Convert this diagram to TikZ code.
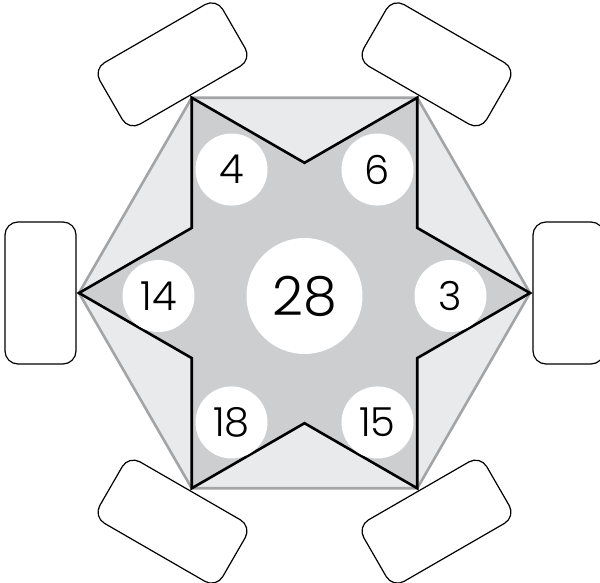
\documentclass[tikz,border=0pt]{standalone}
\usepackage{fontspec}
\setmainfont{Poppins}[UprightFont=* Light]
\usetikzlibrary{positioning}
\definecolor{hexfill}{RGB}{233,234,235}
\definecolor{starfill}{RGB}{205,206,208}
\definecolor{hexline}{RGB}{163,164,166}
\tikzset{
  answerbox/.style={draw=black, line width=1.2pt, fill=white, rounded corners=13pt,
    minimum width=71pt, minimum height=142pt, inner sep=0pt},
  numdisc/.style={circle, fill=white, inner sep=0pt, minimum size=72pt,
    font=\fontsize{40}{42}\selectfont},
  bigdisc/.style={circle, fill=white, inner sep=0pt, minimum size=116pt,
    font=\fontsize{54}{56}\selectfont},
}
\begin{document}
\begin{tikzpicture}[x=1pt,y=1pt]
    \useasboundingbox (-304.5,-290) rectangle (295.5,293);
    % hexagon corners = outer star points, inner star points in between
    \foreach \a [count=\i] in {0,60,...,300}{
      \coordinate (h\i) at (\a:225.5);
      \coordinate (s\i) at (\a+30:130.2);
    }
    % hexagon
    \draw[hexline, line width=2.6pt, fill=hexfill, line join=miter]
      (h1) -- (h2) -- (h3) -- (h4) -- (h5) -- (h6) -- cycle;
    % star
    \draw[black, line width=2.6pt, fill=starfill, line join=miter]
      (h1) -- (s1) -- (h2) -- (s2) -- (h3) -- (s3) -- (h4) -- (s4)
      -- (h5) -- (s5) -- (h6) -- (s6) -- cycle;
    % numbers
    \node[bigdisc] (sum) at (0,-3) {28};
    \foreach \a/\v in {0/3, 60/6, 120/4, 180/14, 240/18, 300/15}{
      \node[numdisc] (d\v) at ([shift={(\a:146)}]sum) {\v};
    }
    % empty answer boxes outside the corners
    \foreach \a [count=\i] in {0,60,...,300}{
      \node[answerbox, rotate=\a] (box\i) at (\a:264) {};
    }
\end{tikzpicture}
\end{document}
